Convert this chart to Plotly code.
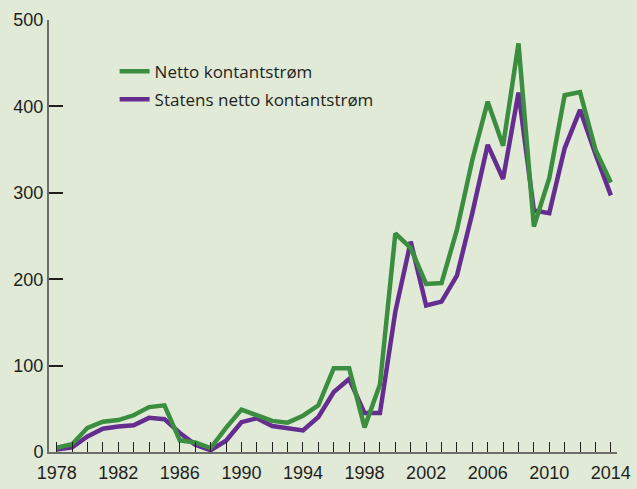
import plotly.graph_objects as go

years = list(range(1978, 2015))

# Netto kontantstrøm (green)
netto = [5, 9, 28, 35, 37, 42.5, 52, 54, 13.5, 11, 4.5, 28, 49, 43, 36, 34, 42, 54,
         97, 97, 28.5, 78, 253, 236, 194.5, 195.5, 257, 338, 405.5, 354.5, 473,
         261, 317, 413, 416.5, 350, 312]

# Statens netto kontantstrøm (purple)
statens = [3, 5.5, 18, 27, 29.5, 31, 39.5, 38, 22, 8.5, 2, 13, 34.5, 39, 30, 27.5, 25, 40.5,
           69.5, 84.5, 45, 45, 162.5, 243.5, 169.5, 174, 204, 276.5, 355.5, 316, 416,
           279.5, 276.5, 351.5, 396, 345, 297]

green = "#3b8e40"
purple = "#662d91"
bg = "#e0ead7"

fig = go.Figure()

# purple first so green is drawn on top
fig.add_trace(go.Scatter(x=years, y=statens, mode="lines", name="Statens netto kontantstrøm",
                         line=dict(color=purple, width=4.5), legendrank=2, legendgroup="b"))
fig.add_trace(go.Scatter(x=years, y=netto, mode="lines", name="Netto kontantstrøm",
                         line=dict(color=green, width=4.5), legendrank=1, legendgroup="a"))

fig.update_layout(
    width=637, height=489,
    paper_bgcolor=bg, plot_bgcolor=bg,
    margin=dict(l=49, r=20, t=20, b=36.5),
    font=dict(family="Liberation Sans, Arial", size=18, color="#231f20"),
    showlegend=True,
    legend=dict(x=0.1155, y=0.922, xanchor="left", yanchor="top",
                bgcolor="rgba(0,0,0,0)", tracegroupgap=3,
                font=dict(family="Open Sans", size=17, color="#231f20")),
)

fig.update_xaxes(
    range=[1977.5, 2014.4], tick0=1978, dtick=4,
    showgrid=False, zeroline=False, automargin=False,
    showline=True, linecolor="#6d6e6a", linewidth=2,
    ticks="inside", ticklen=10, tickwidth=1, tickcolor="#231f20",
    ticklabelstandoff=3,
    minor=dict(dtick=1, tick0=1978, ticks="inside", ticklen=10, tickwidth=1,
               tickcolor="#231f20", showgrid=False),
)
fig.update_yaxes(
    range=[0, 500], dtick=100,
    showgrid=False, zeroline=False, automargin=False,
    showline=True, linecolor="#6d6e6a", linewidth=2,
    ticks="inside", ticklen=14, tickwidth=1.5, tickcolor="#231f20",
)

# page has a default body margin; remove it so the figure fills the window
fig.write_html("out.html", config={"displayModeBar": False},
               post_script="document.body.style.margin='0';document.body.style.background='%s';" % bg)
